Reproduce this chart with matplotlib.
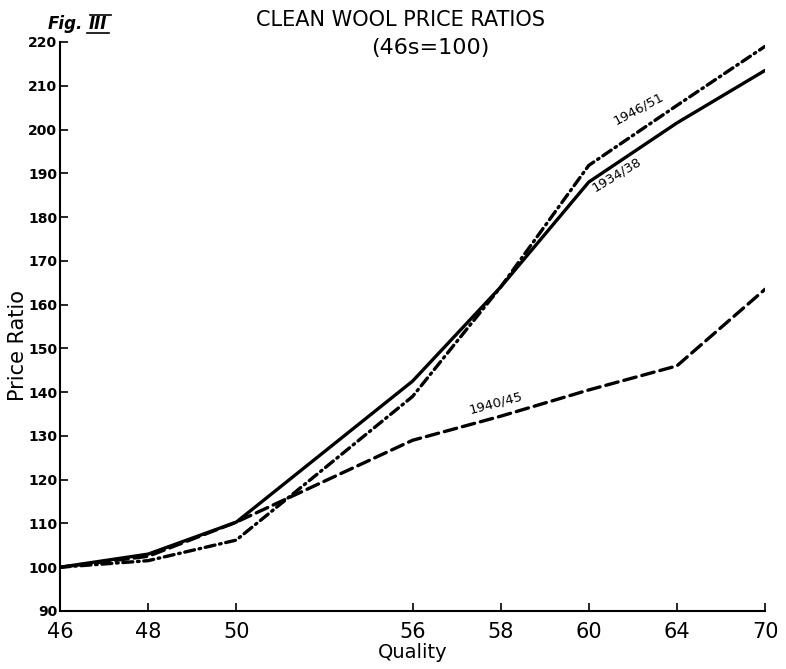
import numpy as np
import matplotlib.pyplot as plt
from matplotlib.lines import Line2D

# -----------------------------
# Data
# -----------------------------
qualities = ["46", "48", "50", "56", "58", "60", "64", "70"]
ratio_1934_38 = [100, 103, 110.3, 142.5, 164, 188, 201.5, 213.5]
ratio_1946_51 = [100, 101.5, 106.2, 139, 164, 191.8, 205.5, 219]
ratio_1940_45 = [100, 102.5, 110.3, 129, 134.5, 140.5, 146, 163.5]
y_ticks = list(range(90, 221, 10))

# uneven spacing on the quality axis: double gap between 50s and 56s
pos = np.arange(len(qualities), dtype=float)
pos[qualities.index("56"):] += 1

plt.rcParams['font.family'] = ['DejaVu Sans']

fig = plt.figure(figsize=(7.86, 6.69), dpi=100)
ax = fig.add_axes([60 / 786, 1 - 611 / 669, 705 / 786, 569 / 669])

ax.plot(pos, ratio_1934_38, color="black", lw=2.4, solid_capstyle="round")
ax.plot(pos, ratio_1946_51, color="black", lw=2.4,
        dashes=(3.0, 1.4, 0.5, 1.4), dash_capstyle="round")
ax.plot(pos, ratio_1940_45, color="black", lw=2.4,
        dashes=(3.8, 1.8), dash_capstyle="round")

ax.set_xlim(pos[0], pos[-1])
ax.set_ylim(90, 220)
ax.set_xticks(pos)
ax.set_xticklabels(qualities, fontsize=15)
ax.set_yticks(y_ticks)
ax.set_yticklabels([str(t) for t in y_ticks], fontsize=10, fontweight="bold")
ax.tick_params(axis="both", direction="in", length=6, width=1.2, colors="black")
ax.tick_params(axis="x", pad=8)
ax.tick_params(axis="y", pad=2)

for s in ["top", "right"]:
    ax.spines[s].set_visible(False)
for s in ["left", "bottom"]:
    ax.spines[s].set_linewidth(1.5)

ax.set_xlabel("Quality", fontsize=14, labelpad=1)
ax.set_ylabel("Price Ratio", fontsize=15)
ax.yaxis.set_label_coords(-0.046, 0.467)

# line labels
ax.text(6.56, 204.8, "1946/51", fontsize=9.5, rotation=28, ha="center", va="center")
ax.text(6.32, 189.8, "1934/38", fontsize=9.5, rotation=31, ha="center", va="center")
ax.text(4.94, 137.5, "1940/45", fontsize=9.5, rotation=15, ha="center", va="center")

# titles
fig.text(0.51, 1 - 20 / 669, "CLEAN WOOL PRICE RATIOS", fontsize=15,
         ha="center", va="center")
fig.text(0.548, 1 - 48 / 669, "(46s=100)", fontsize=16, ha="center", va="center")

fig.text(48 / 786, 1 - 24 / 669, "Fig.", fontsize=12, fontweight="bold",
         fontstyle="italic", ha="left", va="center")
fig.text(89 / 786, 1 - 24 / 669, "III", fontsize=12, fontweight="bold",
         fontstyle="italic", ha="left", va="center")
fig.add_artist(Line2D([90 / 786, 111 / 786], [1 - 15 / 669, 1 - 15 / 669],
                      color="black", lw=1.2, transform=fig.transFigure))
fig.add_artist(Line2D([87 / 786, 109 / 786], [1 - 33 / 669, 1 - 33 / 669],
                      color="black", lw=1.2, transform=fig.transFigure))

fig.savefig("out.png", dpi=100)
